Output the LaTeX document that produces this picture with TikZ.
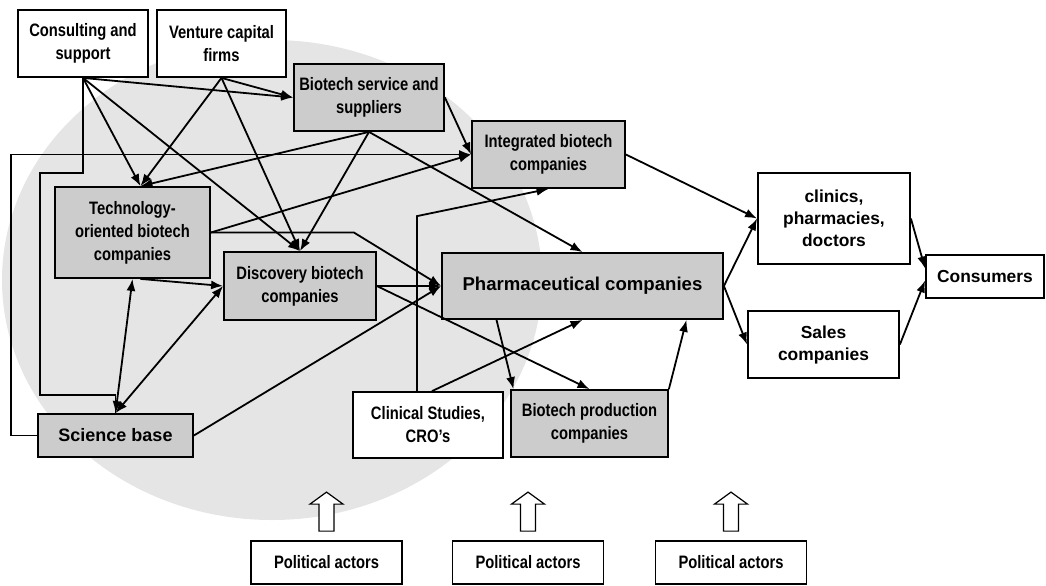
\documentclass[tikz,border=0pt]{standalone}
\usepackage{fontspec}
\usetikzlibrary{arrows.meta}
\setmainfont{Liberation Sans}
\newfontfamily\etroit[FakeStretch=0.82]{Liberation Sans}
\definecolor{gris}{gray}{0.8}
\definecolor{fond}{gray}{0.9}

\begin{document}
\begin{tikzpicture}[x=0.5pt, y=-0.5pt, line width=0.9pt]
  \tikzstyle{boite}=[draw, fill=white, inner sep=0, align=center, font=\etroit\bfseries\fontsize{9}{11.5}\selectfont];
  \tikzstyle{grise}=[boite, fill=gris];
  \tikzstyle{normale}=[font=\bfseries\fontsize{8.7}{11}\selectfont];
  \tikzstyle{fleche}=[-{Latex[length=6pt, width=4.5pt]}];
  \tikzstyle{fleches}=[{Latex[length=6pt, width=4.5pt]}-{Latex[length=6pt, width=4.5pt]}];
  \tikzstyle{bloc}=[draw, fill=white, line width=0.6pt];

  \useasboundingbox (0,0) rectangle (1046,585);
  \fill[fond] (272,280) ellipse [x radius=135pt, y radius=120pt];

  \node[boite, minimum width=65pt, minimum height=33.5pt] (conseil) at (83,43.5) {Consulting and\\support};
  \node[boite, minimum width=64.5pt, minimum height=33.5pt] (capital) at (221.5,43.5) {Venture capital\\firms};
  \node[grise, minimum width=75pt, minimum height=33.5pt] (service) at (369,97.5) {Biotech service and\\suppliers};
  \node[grise, minimum width=76.5pt, minimum height=33.5pt] (integre) at (548.5,154.5) {Integrated biotech\\companies};
  \node[grise, minimum width=77.5pt, minimum height=45.5pt] (techno) at (132.5,232.5) {Technology-\\oriented biotech\\companies};
  \node[grise, minimum width=76pt, minimum height=34pt] (decouverte) at (300,286) {Discovery biotech\\companies};
  \node[grise, normale, font=\bfseries\fontsize{9.3}{11}\selectfont, minimum width=140.5pt, minimum height=33pt] (pharma) at (582.5,286) {Pharmaceutical companies};
  \node[boite, minimum width=75pt, minimum height=33pt] (clinique) at (428,425) {Clinical Studies,\\CRO’s};
  \node[grise, minimum width=78.5pt, minimum height=33.5pt] (production) at (589.5,423.5) {Biotech production\\companies};
  \node[grise, normale, font=\bfseries\fontsize{9}{11}\selectfont, minimum width=77.5pt, minimum height=21.5pt] (science) at (115.5,435.5) {Science base};
  \node[boite, normale, minimum width=76pt, minimum height=45.5pt] (cliniques) at (834,218.5) {clinics,\\pharmacies,\\doctors};
  \node[boite, normale, minimum width=75.5pt, minimum height=33.5pt] (ventes) at (823.5,344.5) {Sales\\companies};
  \node[boite, normale, minimum width=59pt, minimum height=21.5pt] (consommateurs) at (985,276.5) {Consumers};
  \node[boite, minimum width=75.5pt, minimum height=21.5pt] (politique1) at (326.5,562.5) {Political actors};
  \node[boite, minimum width=75.5pt, minimum height=21.5pt] (politique2) at (528,562.5) {Political actors};
  \node[boite, minimum width=75.5pt, minimum height=21.5pt] (politique3) at (731,562.5) {Political actors};

  % fleches creuses des acteurs politiques
  \coordinate (p1) at ([yshift=4.5pt]politique1.north);
  \coordinate (p2) at ([yshift=4.5pt]politique2.north);
  \coordinate (p3) at ([yshift=4.5pt]politique3.north);
  \draw[bloc] (p1) ++(-7.5,0) -- ++(0,-27) -- ++(-9,0) -- ++(16.5,-12) -- ++(16.5,12) -- ++(-9,0) -- ++(0,27) -- cycle;
  \draw[bloc] (p2) ++(-7.5,0) -- ++(0,-27) -- ++(-9,0) -- ++(16.5,-12) -- ++(16.5,12) -- ++(-9,0) -- ++(0,27) -- cycle;
  \draw[bloc] (p3) ++(-7.5,0) -- ++(0,-27) -- ++(-9,0) -- ++(16.5,-12) -- ++(16.5,12) -- ++(-9,0) -- ++(0,27) -- cycle;

  \draw[fleche] (conseil.south) -- (service.west);
  \draw[fleche] (conseil.south) -- ([xshift=4pt]techno.north);
  \draw[fleche] (conseil.south) -- (decouverte.north);
  \draw (conseil.south) |- (40,173) |- ([yshift=9pt]science.north) -- (science.north);
  \draw[fleche] (capital.south) -- (service.west);
  \draw[fleche] (capital.south) -- ([xshift=4pt]techno.north);
  \draw[fleche] (capital.south) -- (decouverte.north);
  \draw[fleche] (service.south) -- ([xshift=4pt]techno.north);
  \draw[fleche] (service.south) -- (decouverte.north);
  \draw[fleche] (service.south) -- (pharma.north);
  \draw[fleche] (service.east) -- (integre.west);
  \draw[fleche] (techno.east) -- (integre.west);
  \draw[fleche] (techno.east) -- ++(143,0) -- (pharma.west);
  \draw[fleche] ([xshift=4pt]techno.south) -- (decouverte.west);
  \draw[fleches] (techno.south) -- (science.north);
  \draw[fleches] (science.north) -- (decouverte.west);
  \draw[fleche] (science.east) -- (pharma.west);
  \draw[fleche] (science.west) -- ++(-26,0) |- (integre.west);
  \draw[fleche] (decouverte.east) -- (pharma.west);
  \draw[fleche] (decouverte.east) -- (production.north);
  \draw[fleche] ([xshift=-5.5pt]clinique.north) -- ++(0,-175) -- (integre.south);
  \draw[fleche] ([xshift=2pt]clinique.north) -- (pharma.south);
  \draw[fleche] ([xshift=-43pt]pharma.south) -- ([xshift=-38pt]production.north);
  \draw[fleche] (production.north east) -- ([xshift=52pt]pharma.south);
  \draw[fleche] (integre.east) -- (cliniques.west);
  \draw[fleche] (pharma.east) -- (cliniques.west);
  \draw[fleche] (pharma.east) -- (ventes.west);
  \draw[fleche] (cliniques.east) -- ([yshift=4pt]consommateurs.west);
  \draw[fleche] (ventes.east) -- ([yshift=-2pt]consommateurs.west);
\end{tikzpicture}
\end{document}
